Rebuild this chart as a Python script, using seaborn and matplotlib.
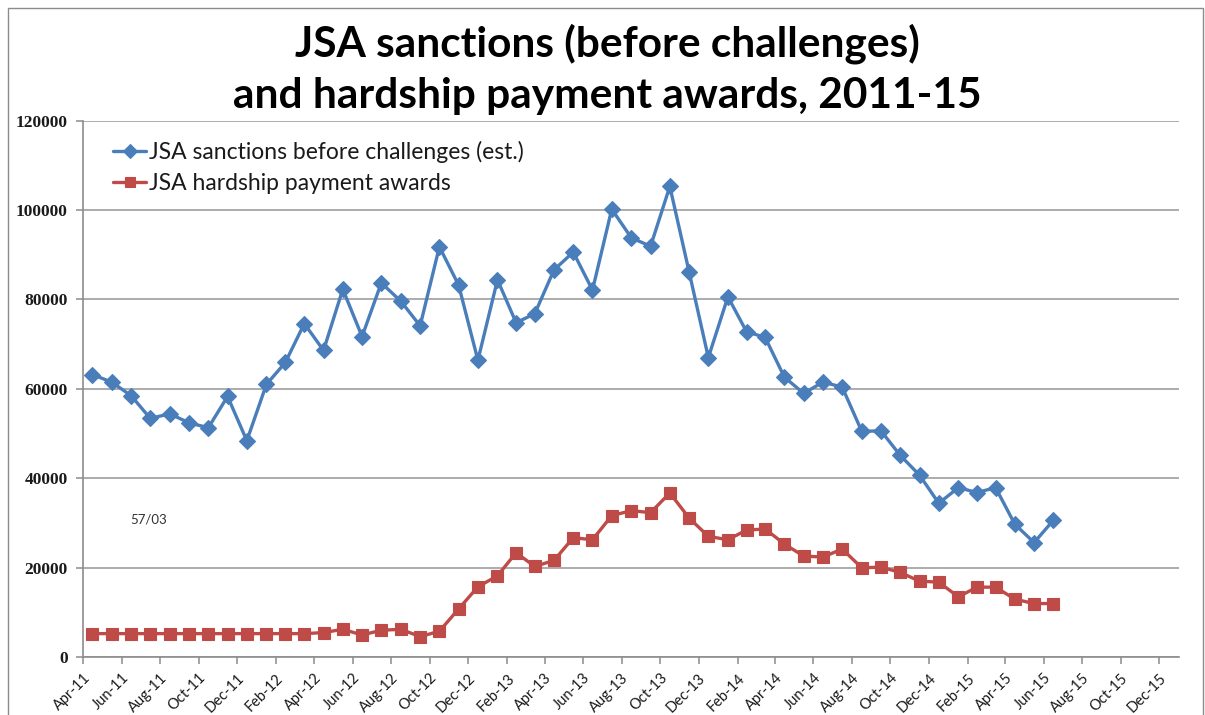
import numpy as np
import pandas as pd
import matplotlib
matplotlib.use("Agg")
import matplotlib.pyplot as plt
import matplotlib.ticker as mticker
from matplotlib.patches import Rectangle
import seaborn as sns

# Monthly observations, April 2011 to June 2015
months = pd.period_range("2011-04", "2015-06", freq="M")

sanctions = [
    63200, 61500, 58500, 53400, 54400, 52400, 51300, 58300, 48400, 61000,
    65900, 74600, 68600, 82300, 71700, 83700, 79600, 74100, 91800, 83200,
    66400, 84400, 74800, 76800, 86600, 90600, 82100, 100200, 93800, 91900,
    105300, 86200, 67000, 80600, 72800, 71500, 62600, 59000, 61500, 60400,
    50500, 50600, 45100, 40700, 34400, 37900, 36800, 37900, 29700, 25600,
    30600,
]

hardship = [
    5230, 5230, 5230, 5230, 5230, 5230, 5230, 5230, 5230, 5230,
    5230, 5230, 5460, 6200, 4930, 5980, 6200, 4560, 5760, 10770,
    15700, 18170, 23330, 20260, 21610, 26690, 26240, 31630, 32750, 32300,
    36710, 31100, 26990, 26240, 28410, 28640, 25270, 22580, 22360, 24150,
    19960, 20110, 18920, 16970, 16750, 13460, 15630, 15630, 12940, 11960,
    11960,
]

series_names = [
    "JSA sanctions before challenges (est.)",
    "JSA hardship payment awards",
]
title_lines = [
    "JSA sanctions (before challenges)",
    "and hardship payment awards, 2011-15",
]
note_text = "57/03"

# Axis runs from April 2011 to the end of December 2015, ticks every two months
axis_start = pd.Timestamp("2011-04-01")
axis_end = pd.Timestamp("2016-01-01")
tick_dates = pd.date_range("2011-04-01", "2015-12-01", freq="2MS")
tick_labels = [d.strftime("%b-%y") for d in tick_dates]
y_ticks = list(range(0, 120001, 20000))

BLUE = "#4A7EBB"
RED = "#BE4B48"
GRID = "#A6A6A6"
AXIS = "#8C8C8C"

# Each month is plotted in the middle of its slot on the date axis
starts = months.to_timestamp(how="start")
ends = (months + 1).to_timestamp(how="start")
mid = starts + (ends - starts) / 2

df = pd.DataFrame({"date": mid, "sanctions": sanctions, "hardship": hardship})

sns.set_style("white")
plt.rcParams["font.family"] = ["Lato", "DejaVu Sans"]

W, H = 1205, 715
fig = plt.figure(figsize=(W / 100, H / 100), dpi=100)
ax = fig.add_axes([83 / W, 1 - 657 / H, (1179 - 83) / W, (657 - 120.7) / H])

sns.lineplot(data=df, x="date", y="sanctions", ax=ax, color=BLUE,
             marker="D", markersize=8.5, markeredgecolor=BLUE, markeredgewidth=0.8,
             linewidth=2.4, label=series_names[0])
sns.lineplot(data=df, x="date", y="hardship", ax=ax, color=RED,
             marker="s", markersize=9, markeredgecolor=RED, markeredgewidth=0.8,
             linewidth=2.4, label=series_names[1])

ax.set_xlim(axis_start, axis_end)
ax.set_ylim(0, 120000)
ax.set_xticks(tick_dates)
ax.set_xticklabels(tick_labels, rotation=45, ha="right", rotation_mode="anchor",
                   fontsize=10.5, color="#1A1A1A", family=["Lato", "DejaVu Sans"])
ax.set_yticks(y_ticks)
ax.yaxis.set_major_formatter(mticker.FuncFormatter(lambda v, p: f"{int(v)}"))
for lab in ax.get_yticklabels():
    lab.set_family(["Liberation Serif", "DejaVu Serif"])
    lab.set_fontweight("bold")
    lab.set_fontsize(12.5)
    lab.set_color("#1A1A1A")
ax.set_xlabel("")
ax.set_ylabel("")

ax.yaxis.grid(True, color=GRID, linewidth=1.3)
ax.xaxis.grid(False)
ax.set_axisbelow(True)
for side in ("top", "right"):
    ax.spines[side].set_visible(False)
for side in ("left", "bottom"):
    ax.spines[side].set_color(AXIS)
    ax.spines[side].set_linewidth(1.2)
ax.tick_params(axis="y", direction="out", length=5, width=1.1, color=AXIS, pad=6,
               left=True)
ax.tick_params(axis="x", direction="out", length=5, width=1.1, color=AXIS, pad=5,
               bottom=True)

leg = ax.legend(loc="upper left", bbox_to_anchor=(0.015, 0.988), frameon=False,
                fontsize=16.5, handlelength=1.45, handletextpad=0.1,
                labelspacing=0.45, borderaxespad=0.2, markerscale=0.85)
for t in leg.get_texts():
    t.set_color("#1A1A1A")

ax.text(0.043, 0.2555, note_text, transform=ax.transAxes, ha="left", va="center",
        fontsize=9.5, color="#333333")

fig.text(0.504, 1 - 44 / H, title_lines[0], ha="center", va="center",
         fontsize=30.5, fontweight="bold", color="black")
fig.text(0.504, 1 - 96 / H, title_lines[1], ha="center", va="center",
         fontsize=30.5, fontweight="bold", color="black")

# Thin frame round the whole chart area
fig.patches.append(Rectangle((8 / W, -0.1), (1203 - 8) / W, 1 - 8 / H + 0.1,
                             transform=fig.transFigure, fill=False,
                             edgecolor=AXIS, linewidth=1.0))

fig.savefig("out.png", dpi=100, facecolor="white")
